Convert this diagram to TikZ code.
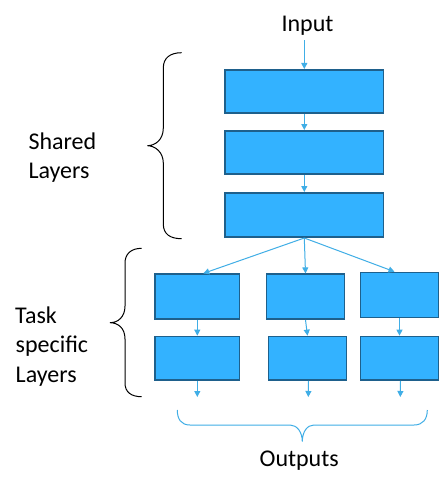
\documentclass[tikz,border=0pt]{standalone}
\usepackage{fontspec}
\setmainfont{Carlito}
\usetikzlibrary{arrows.meta,calc}
\definecolor{boxfill}{RGB}{51,178,255}
\definecolor{boxline}{RGB}{30,96,140}
\definecolor{arrowc}{RGB}{64,174,230}
\tikzset{
  layerbox/.style={draw=boxline, fill=boxfill, line width=1.6pt, inner sep=0pt},
  flow/.style={draw=arrowc, line width=1pt, -{Triangle[width=6pt,length=6pt]}},
  lbl/.style={inner sep=0pt, font=\fontsize{24}{29.5}\selectfont},
  bracepath/.style={line width=1pt}
}
\begin{document}
\begin{tikzpicture}[x=1pt,y=-1pt]
\useasboundingbox (0,0) rectangle (440,487);
\fill[white] (0,0) rectangle (440,487);
% shared layers
\node[layerbox, minimum width=158.4pt, minimum height=43pt] (b1) at (304.3,91.3) {};
\node[layerbox, minimum width=158.4pt, minimum height=43.4pt] (b2) at (304.3,152.5) {};
\node[layerbox, minimum width=158.4pt, minimum height=44.4pt] (b3) at (304.3,215) {};
% task layers
\node[layerbox, minimum width=84.4pt, minimum height=45pt] (t1a) at (197.3,296.7) {};
\node[layerbox, minimum width=78pt, minimum height=45pt] (t2a) at (305.5,296.7) {};
\node[layerbox, minimum width=78pt, minimum height=45pt] (t3a) at (399.5,295) {};
\node[layerbox, minimum width=84.4pt, minimum height=43.7pt] (t1b) at (197.3,358.3) {};
\node[layerbox, minimum width=78pt, minimum height=43.7pt] (t2b) at (307.5,358.3) {};
\node[layerbox, minimum width=78pt, minimum height=43.7pt] (t3b) at (399.5,358.3) {};
% labels
\node[lbl, anchor=base] (input) at (307.5,31.7) {Input};
\node[lbl, anchor=base] (outputs) at (299.2,466.7) {Outputs};
\node[lbl, anchor=base west] (sh1) at (28.3,149.3) {Shared};
\node[lbl, anchor=base west] (sh2) at (28.3,178.8) {Layers};
\node[lbl, anchor=base west] (ts1) at (15,323.3) {Task};
\node[lbl, anchor=base west] (ts2) at (15.5,352.8) {specific};
\node[lbl, anchor=base west] (ts3) at (15.5,382.3) {Layers};
% connector coordinates
\coordinate (inbot) at (304.3,40.5);
\coordinate (o1) at (197.3,397);
\coordinate (o2) at (308.3,397);
\coordinate (o3) at (400.3,397);
% arrows
\draw[flow] (inbot) -- (b1.north);
\draw[flow] (b1.south) -- (b2.north);
\draw[flow] (b2.south) -- (b3.north);
\draw[flow] (b3.south) -- ([xshift=6pt]t1a.north);
\draw[flow] (b3.south) -- (t2a.north);
\draw[flow] (b3.south) -- ([xshift=-5pt]t3a.north);
\draw[flow] (t1a.south) -- (t1b.north);
\draw[flow] (t2a.south) -- (t2b.north);
\draw[flow] (t3a.south) -- (t3b.north);
\draw[flow] (t1b.south) -- (o1);
\draw[flow] ([xshift=1pt]t2b.south) -- (o2);
\draw[flow] ([xshift=1pt]t3b.south) -- (o3);
% braces
\draw[bracepath, black] (181.7,52.7) .. controls (170,52.7) and (163.3,58) .. (163.3,68) -- (163.3,128)
  .. controls (163.3,140) and (155,145.7) .. (147.3,145.7)
  .. controls (155,145.7) and (163.3,152) .. (163.3,163) -- (163.3,224)
  .. controls (163.3,234) and (170,238.7) .. (181.7,238.7);
\draw[bracepath, black] (141.7,248.3) .. controls (131,248.3) and (125,254) .. (125,263) -- (125,306)
  .. controls (125,317) and (118,322.7) .. (110,322.7)
  .. controls (118,322.7) and (125,328) .. (125,339) -- (125,383)
  .. controls (125,392) and (131,396.7) .. (141.7,396.7);
\draw[bracepath, arrowc] (177.3,410) .. controls (177.3,419) and (181,425) .. (190,425) -- (290,425)
  .. controls (297,425) and (302.3,432) .. (302.3,441.7)
  .. controls (302.3,432) and (307,425) .. (314,425) -- (414,425)
  .. controls (423,425) and (427.3,419) .. (427.3,410);
\end{tikzpicture}
\end{document}
